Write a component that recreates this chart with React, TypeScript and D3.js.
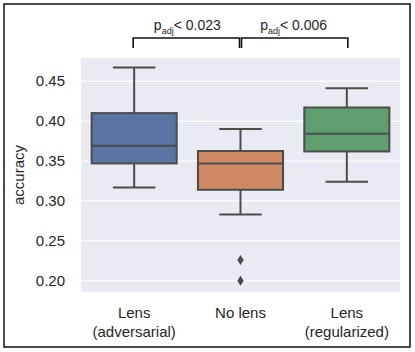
import { useEffect, useRef } from "react";
import * as d3 from "d3";

const categories = ["Lens\n(adversarial)", "No lens", "Lens\n(regularized)"];
const whiskerLow = [0.317, 0.283, 0.324];
const q1 = [0.347, 0.314, 0.362];
const median = [0.369, 0.347, 0.384];
const q3 = [0.410, 0.3625, 0.417];
const whiskerHigh = [0.467, 0.390, 0.441];
const outliers = [[], [0.226, 0.200], []];
const boxColors = ["#5875A4", "#CC8963", "#5F9E6E"];
const yTicks = [0.20, 0.25, 0.30, 0.35, 0.40, 0.45];
const brackets = [
  { from: 0, to: 1, label: "0.023" },
  { from: 1, to: 2, label: "0.006" },
];

const W = 415;
const H = 352;

const App = () => {
  const ref = useRef<SVGSVGElement>(null);

  useEffect(() => {
    if (!ref.current) return;
    const svg = d3.select(ref.current);
    svg.selectAll("*").remove();

    const margin = { top: 58, right: 15, bottom: 60, left: 81 };
    const width = W - margin.left - margin.right;
    const height = H - margin.top - margin.bottom;
    const font = "'Liberation Sans', Arial, sans-serif";
    const lineColor = "#4c4c4c";

    // outer frame
    svg.append("rect")
      .attr("x", 4).attr("y", 4)
      .attr("width", W - 9).attr("height", H - 9)
      .attr("fill", "white").attr("stroke", "#111").attr("stroke-width", 1.5);

    const x = d3.scaleBand<number>()
      .domain(d3.range(categories.length))
      .range([0, width]);

    const y = d3.scaleLinear()
      .domain([0.186, 0.479])
      .range([height, 0]);

    const g = svg.append("g")
      .attr("transform", `translate(${margin.left},${margin.top})`);

    g.append("rect")
      .attr("width", width).attr("height", height)
      .attr("fill", "#EAEAF2");

    g.selectAll("line.grid")
      .data(yTicks)
      .enter().append("line")
      .attr("class", "grid")
      .attr("x1", 0).attr("x2", width)
      .attr("y1", d => y(d)).attr("y2", d => y(d))
      .attr("stroke", "white").attr("stroke-width", 1.2);

    // y tick labels
    g.selectAll("text.ytick")
      .data(yTicks)
      .enter().append("text")
      .attr("class", "ytick")
      .attr("x", -16)
      .attr("y", d => y(d))
      .attr("dy", "0.35em")
      .attr("text-anchor", "end")
      .style("font-family", font)
      .style("font-size", "15px")
      .attr("fill", "#262626")
      .text(d => d.toFixed(2));

    // y axis label
    g.append("text")
      .attr("transform", "rotate(-90)")
      .attr("x", -height / 2)
      .attr("y", -57)
      .attr("text-anchor", "middle")
      .style("font-family", font)
      .style("font-size", "15px")
      .attr("fill", "#262626")
      .text("accuracy");

    const boxW = x.bandwidth() * 0.8;
    const capW = boxW / 2;

    const boxes = g.selectAll("g.box")
      .data(categories.map((c, i) => i))
      .enter().append("g")
      .attr("class", "box")
      .attr("transform", i => `translate(${x(i)! + x.bandwidth() / 2},0)`);

    // whiskers
    boxes.append("line")
      .attr("x1", 0).attr("x2", 0)
      .attr("y1", i => y(q3[i])).attr("y2", i => y(whiskerHigh[i]))
      .attr("stroke", lineColor).attr("stroke-width", 2);
    boxes.append("line")
      .attr("x1", 0).attr("x2", 0)
      .attr("y1", i => y(q1[i])).attr("y2", i => y(whiskerLow[i]))
      .attr("stroke", lineColor).attr("stroke-width", 2);
    boxes.append("line")
      .attr("x1", -capW / 2).attr("x2", capW / 2)
      .attr("y1", i => y(whiskerHigh[i])).attr("y2", i => y(whiskerHigh[i]))
      .attr("stroke", lineColor).attr("stroke-width", 2);
    boxes.append("line")
      .attr("x1", -capW / 2).attr("x2", capW / 2)
      .attr("y1", i => y(whiskerLow[i])).attr("y2", i => y(whiskerLow[i]))
      .attr("stroke", lineColor).attr("stroke-width", 2);

    // box
    boxes.append("rect")
      .attr("x", -boxW / 2)
      .attr("width", boxW)
      .attr("y", i => y(q3[i]))
      .attr("height", i => y(q1[i]) - y(q3[i]))
      .attr("fill", i => boxColors[i])
      .attr("stroke", lineColor).attr("stroke-width", 2);

    // median
    boxes.append("line")
      .attr("x1", -boxW / 2).attr("x2", boxW / 2)
      .attr("y1", i => y(median[i])).attr("y2", i => y(median[i]))
      .attr("stroke", lineColor).attr("stroke-width", 2);

    // outliers as diamonds
    boxes.selectAll("path.out")
      .data(i => outliers[i])
      .enter().append("path")
      .attr("class", "out")
      .attr("d", d => `M0,${y(d) - 5}L3.2,${y(d)}L0,${y(d) + 5}L-3.2,${y(d)}Z`)
      .attr("fill", lineColor);

    // x labels
    const xl = g.selectAll("text.xlab")
      .data(categories.map((c, i) => i))
      .enter().append("text")
      .attr("class", "xlab")
      .attr("x", i => x(i)! + x.bandwidth() / 2)
      .attr("y", height + 26)
      .attr("text-anchor", "middle")
      .style("font-family", font)
      .style("font-size", "15px")
      .attr("fill", "#262626");
    xl.each(function (i) {
      const lines = categories[i].split("\n");
      d3.select(this).selectAll("tspan")
        .data(lines)
        .enter().append("tspan")
        .attr("x", x(i)! + x.bandwidth() / 2)
        .attr("dy", (d, k) => (k === 0 ? 0 : 19))
        .text(d => d);
    });

    // significance brackets
    const cx = (i: number) => x(i)! + x.bandwidth() / 2;
    brackets.forEach((b, k) => {
      const x1 = cx(b.from) + (k === 1 ? 1 : -1);
      const x2 = cx(b.to) + (k === 0 ? -1 : 1);
      const by = -20;
      g.append("path")
        .attr("d", `M${x1},${by + 10}V${by}H${x2}V${by + 10}`)
        .attr("fill", "none")
        .attr("stroke", "#111")
        .attr("stroke-width", 1.6);
      const t = g.append("text")
        .attr("x", (cx(b.from) + cx(b.to)) / 2)
        .attr("y", by - 8)
        .attr("text-anchor", "middle")
        .style("font-family", font)
        .style("font-size", "14px")
        .attr("fill", "#262626");
      t.append("tspan").text("p");
      t.append("tspan").attr("dy", 4).style("font-size", "9px").text("adj");
      t.append("tspan").attr("dy", -4).text("< " + b.label);
    });
  }, []);

  return <svg ref={ref} width={W} height={H} style={{ display: "block", position: "absolute", left: 0, top: 0 }} />;
};

export default App;
